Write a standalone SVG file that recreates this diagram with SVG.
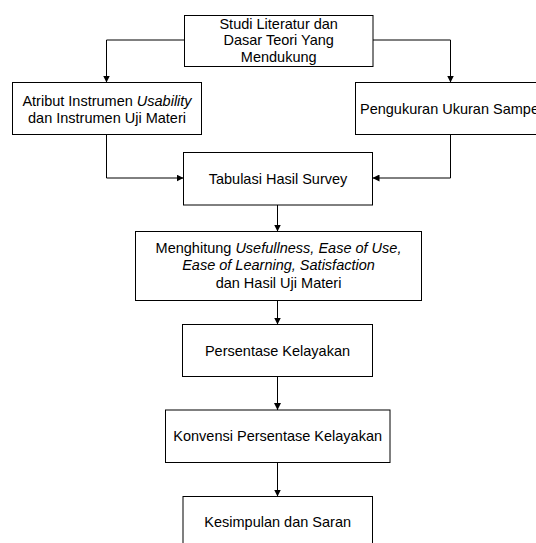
<svg xmlns="http://www.w3.org/2000/svg" width="536" height="543" viewBox="0 0 536 543">
<style>
.box{fill:#fff;stroke:#000;stroke-width:1}
.t{font-family:"Liberation Sans",Arial,sans-serif;font-size:14.5px;fill:#000;text-anchor:middle}
.i{font-style:italic}
.c{fill:none;stroke:#000;stroke-width:1}
</style>
<defs>
<marker id="ah" markerUnits="userSpaceOnUse" markerWidth="7" markerHeight="7" refX="7" refY="3.5" orient="auto">
<path d="M0,0 L7,3.5 L0,7 z" fill="#000"/>
</marker>
</defs>
<rect width="536" height="543" fill="#fff"/>
<g id="connectors">
<path class="c" d="M184.5,40 H106.5 V82.5" marker-end="url(#ah)"/>
<path class="c" d="M373,40 H450.5 V82.5" marker-end="url(#ah)"/>
<path class="c" d="M106.5,134.5 V178 H183.5" marker-end="url(#ah)"/>
<path class="c" d="M450.5,134.5 V178 H372.5" marker-end="url(#ah)"/>
<path class="c" d="M277.5,205 V231.5" marker-end="url(#ah)"/>
<path class="c" d="M277.5,300.5 V324.5" marker-end="url(#ah)"/>
<path class="c" d="M277.5,376.5 V410" marker-end="url(#ah)"/>
<path class="c" d="M277.5,462.5 V496.5" marker-end="url(#ah)"/>
</g>
<g id="n1">
<rect class="box" x="184.5" y="15.5" width="188.5" height="51"/>
<text class="t" x="278.7" y="28.5">Studi Literatur dan</text>
<text class="t" x="278.7" y="45.2">Dasar Teori Yang</text>
<text class="t" x="278.7" y="61.9">Mendukung</text>
</g>
<g id="n2">
<rect class="box" x="12.5" y="82.5" width="189" height="52"/>
<text class="t" x="107" y="105.5">Atribut Instrumen <tspan class="i">Usability</tspan></text>
<text class="t" x="107" y="122.5">dan Instrumen Uji Materi</text>
</g>
<g id="n3">
<rect class="box" x="355.5" y="82.5" width="200" height="52"/>
<text class="t" x="360" y="113.5" style="text-anchor:start">Pengukuran Ukuran Sampel</text>
</g>
<g id="n4">
<rect class="box" x="183.5" y="152.5" width="189" height="52.5"/>
<text class="t" x="278" y="184">Tabulasi Hasil Survey</text>
</g>
<g id="n5">
<rect class="box" x="135.5" y="231.5" width="286" height="69"/>
<text class="t" x="278.5" y="252.7">Menghitung <tspan class="i">Usefullness, Ease of Use,</tspan></text>
<text class="t i" x="278.5" y="270.4">Ease of Learning, Satisfaction</text>
<text class="t" x="278.5" y="288.2">dan Hasil Uji Materi</text>
</g>
<g id="n6">
<rect class="box" x="182.5" y="324.5" width="190" height="52"/>
<text class="t" x="277.5" y="355.5">Persentase Kelayakan</text>
</g>
<g id="n7">
<rect class="box" x="165.5" y="410" width="224.5" height="52.5"/>
<text class="t" x="277.7" y="441">Konvensi Persentase Kelayakan</text>
</g>
<g id="n8">
<rect class="box" x="183" y="496.5" width="189.5" height="60"/>
<text class="t" x="277.7" y="527">Kesimpulan dan Saran</text>
</g>
</svg>
